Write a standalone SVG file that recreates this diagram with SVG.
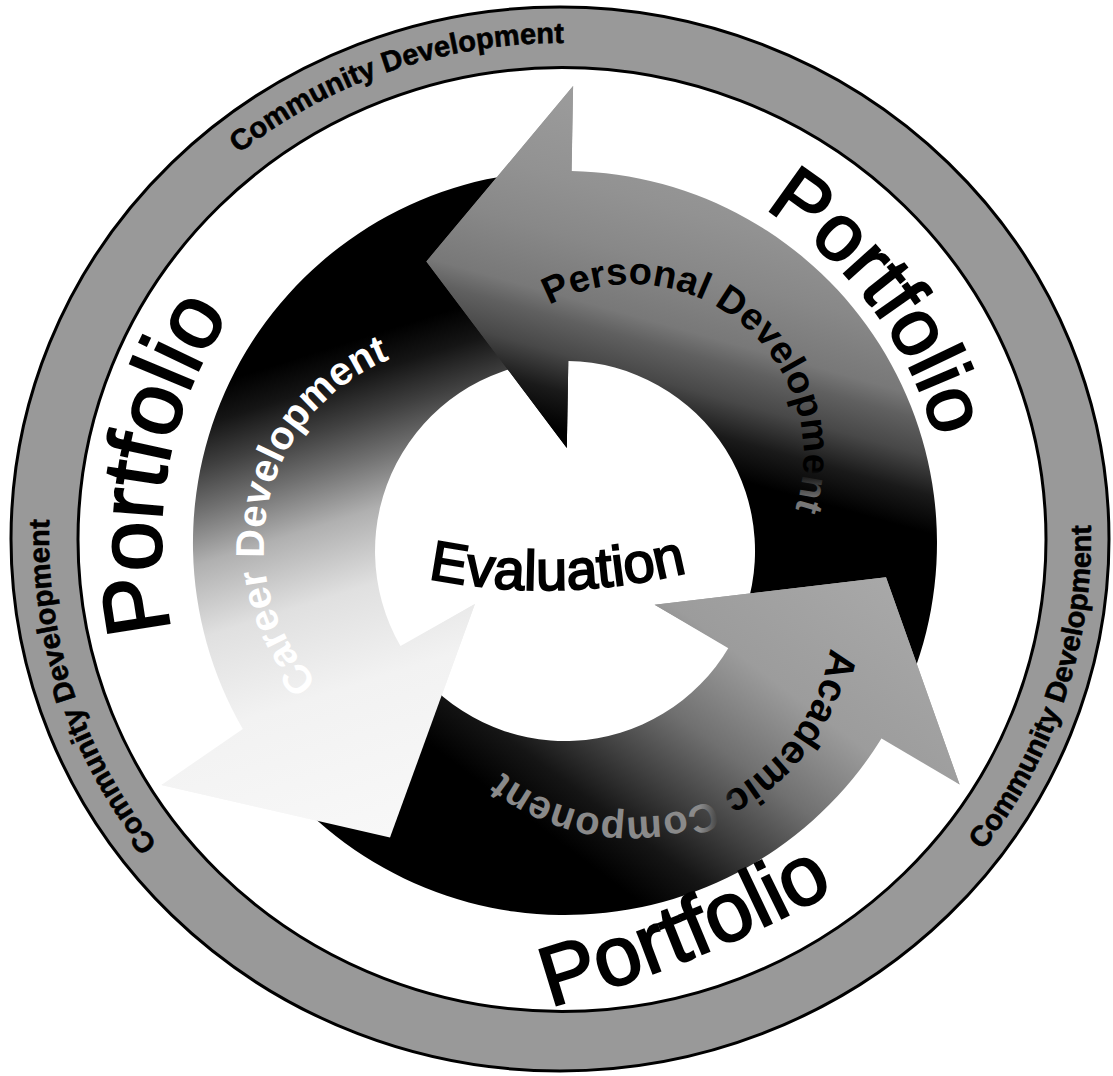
<svg xmlns="http://www.w3.org/2000/svg" width="1113" height="1076" viewBox="0 0 1113 1076">
  <style>
    .ring-label { font-family: "Liberation Sans", Arial, sans-serif; font-weight: bold; font-size: 29px; fill: #000; stroke: #000; stroke-width: 0.6; }
    .portfolio { font-family: "Liberation Sans", Arial, sans-serif; fill: #000; stroke: #000; stroke-width: 2.2; }
    .arc-label { font-family: "Liberation Sans", Arial, sans-serif; font-weight: bold; }
    .centre-label { font-family: "Liberation Sans", Arial, sans-serif; font-size: 56px; fill: #000; stroke: #000; stroke-width: 2; }
    .ring-band { fill: #999; stroke: #000; stroke-width: 3; }
    .ring-hole { fill: #fff; stroke: #000; stroke-width: 3; }
  </style>
  <defs>
    <!-- linear fills for the three cycle arrows -->
    <linearGradient id="gPersonal" gradientUnits="userSpaceOnUse" x1="620" y1="100" x2="519.8" y2="457.3">
      <stop offset="0" stop-color="#9c9c9c"/>
      <stop offset="0.24" stop-color="#929292"/>
      <stop offset="0.39" stop-color="#888888"/>
      <stop offset="0.55" stop-color="#787878"/>
      <stop offset="0.61" stop-color="#606060"/>
      <stop offset="0.7" stop-color="#484848"/>
      <stop offset="0.8" stop-color="#1a1a1a"/>
      <stop offset="0.9" stop-color="#000"/>
    </linearGradient>
    <linearGradient id="gAcademic" gradientUnits="userSpaceOnUse" x1="900" y1="560" x2="642" y2="904">
      <stop offset="0" stop-color="#aaaaaa"/>
      <stop offset="0.4" stop-color="#9c9c9c"/>
      <stop offset="0.6" stop-color="#707070"/>
      <stop offset="0.75" stop-color="#404040"/>
      <stop offset="0.88" stop-color="#151515"/>
      <stop offset="1" stop-color="#000"/>
    </linearGradient>
    <linearGradient id="gCareer" gradientUnits="userSpaceOnUse" x1="400" y1="830" x2="248" y2="347">
      <stop offset="0" stop-color="#f8f8f8"/>
      <stop offset="0.3" stop-color="#f2f2f2"/>
      <stop offset="0.48" stop-color="#e0e0e0"/>
      <stop offset="0.62" stop-color="#b0b0b0"/>
      <stop offset="0.72" stop-color="#707070"/>
      <stop offset="0.8" stop-color="#404040"/>
      <stop offset="0.88" stop-color="#151515"/>
      <stop offset="0.95" stop-color="#000"/>
    </linearGradient>
    <!-- label fills that fade where the words run onto the dark end of an arrow -->
    <linearGradient id="tPersonal" gradientUnits="userSpaceOnUse" x1="0" y1="470" x2="0" y2="500">
      <stop offset="0" stop-color="#000"/>
      <stop offset="1" stop-color="#777"/>
    </linearGradient>
    <linearGradient id="tAcademic" gradientUnits="userSpaceOnUse" x1="735" y1="0" x2="700" y2="0">
      <stop offset="0" stop-color="#000"/>
      <stop offset="1" stop-color="#8a8a8a"/>
    </linearGradient>

    <!-- text baselines -->
    <path id="pRingTop" d="M238.8,153.5 A512,496 0 0 1 890.1,159"/>
    <path id="pRingLeft" d="M157.5,844.4 A512,496 0 0 1 141.6,254.5"/>
    <path id="pRingRight" d="M982.6,850.5 A530,514 0 0 0 995.1,244.2"/>
    <path id="pPortLeft" d="M171.6,630.3 A400,400 0 0 1 361,192.6"/>
    <path id="pPortRight" d="M764.3,208.5 A388,388 0 0 1 943.1,606.4"/>
    <path id="pPortBottom" d="M550,1007 A1400,1400 0 0 0 969.9,807.4"/>
    <path id="pEval" d="M428,578.6 A598,598 0 0 0 700,569.3"/>
    <path id="pPersonal" d="M549.3,305.1 A172,172 0 0 1 716,606"/>
    <path id="pCareer" d="M318,682 A200,200 0 0 1 567,373.8"/>
    <path id="pAcademic" d="M830.2,647.9 A203,203 0 0 1 430.1,649.3"/>
  </defs>

  <rect width="1113" height="1076" fill="#fff"/>

  <!-- outer band: Community Development -->
  <g id="community-ring">
    <ellipse class="ring-band" cx="560" cy="539" rx="549" ry="532"/>
    <ellipse class="ring-hole" cx="562" cy="539.5" rx="484" ry="472"/>
    <text class="ring-label"><textPath href="#pRingTop">Community Development</textPath></text>
    <text class="ring-label"><textPath href="#pRingLeft">Community Development</textPath></text>
    <text class="ring-label"><textPath href="#pRingRight">Community Development</textPath></text>
  </g>

  <!-- cycle arrows; bodies first, heads on top so each head covers the previous tail -->
  <g id="connectors">
    <path id="arrow-career" fill="url(#gCareer)"
      d="M390,837.6 L161.4,785 L242.8,729 A372,372 0 0 1 532.6,172.4 L548.4,361.7 A190,190 0 0 0 400.5,646 L474.9,604 Z"/>
    <path id="arrow-personal" fill="url(#gPersonal)"
      d="M426.4,261.4 L573.1,86.1 L571.5,171.1 A372,372 0 0 1 903.5,697.3 L737.9,629.8 A190,190 0 0 0 568.3,361 L566.8,448 Z"/>
    <path id="arrow-academic" fill="url(#gAcademic)"
      d="M886,577.3 L959.6,784.5 L885.5,731.8 A372,372 0 0 1 264,761.7 L411.3,662.7 A190,190 0 0 0 728.7,647.4 L654.6,604.8 Z"/>
    <g id="arrow-heads">
      <path fill="url(#gCareer)" d="M390,837.6 L161.4,785 L474.9,604 Z"/>
      <path fill="url(#gPersonal)" d="M426.4,261.4 L573.1,86.1 L566.8,448 Z"/>
      <path fill="url(#gAcademic)" d="M886,577.3 L959.6,784.5 L654.6,604.8 Z"/>
    </g>
  </g>

  <!-- Portfolio labels in the white band -->
  <g id="portfolio-labels">
    <text class="portfolio" font-size="90"><textPath href="#pPortLeft">Portfolio</textPath></text>
    <text class="portfolio" font-size="80"><textPath href="#pPortRight">Portfolio</textPath></text>
    <text class="portfolio" font-size="84"><textPath href="#pPortBottom">Portfolio</textPath></text>
  </g>

  <!-- arrow labels -->
  <g id="personal-development">
    <text class="arc-label" font-size="38" fill="url(#tPersonal)"><textPath href="#pPersonal">Personal Development</textPath></text>
  </g>
  <g id="career-development">
    <text class="arc-label" font-size="40" fill="#fff"><textPath href="#pCareer">Career Development</textPath></text>
  </g>
  <g id="academic-component">
    <text class="arc-label" font-size="40" fill="url(#tAcademic)"><textPath href="#pAcademic">Academic Component</textPath></text>
  </g>

  <!-- centre -->
  <g id="evaluation">
    <text class="centre-label"><textPath href="#pEval">Evaluation</textPath></text>
  </g>
</svg>
